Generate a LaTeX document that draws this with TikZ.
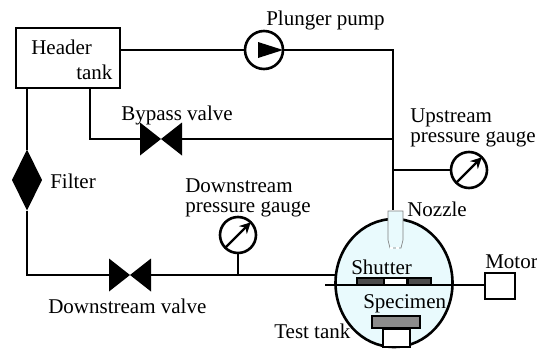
\documentclass[tikz,border=0pt]{standalone}
\usepackage{fontspec}
\setmainfont{Liberation Serif}
\usetikzlibrary{shapes.geometric}
\usetikzlibrary{arrows.meta}
\definecolor{tankblue}{HTML}{E9FAFD}

\begin{document}
\begin{tikzpicture}[x=1pt,y=-1pt,line width=2.6pt,
    tag/.style={
% The shape:
rectangle,
% The size:
inner sep=0pt,anchor=west,align=left,
% The font:
font=\fontsize{21}{20.5}\selectfont,
},
    box/.style={
% The shape:
rectangle,
% The border:
draw, line width=2.6pt, inner sep=0pt,
},
    valve/.style={
% The shape:
rectangle,
% The size:
minimum width=42pt, minimum height=33pt, inner sep=0pt, outer sep=0pt,
% The bowtie:
path picture={
  \fill (path picture bounding box.north west) -- (path picture bounding box.south east)
  -- (path picture bounding box.north east) -- (path picture bounding box.south west) -- cycle;
},
},
    gauge/.style={
% The shape:
circle,
% The size:
minimum size=36pt, inner sep=0pt, outer sep=0pt,
% The border:
draw, line width=2.6pt,
},
    pipe/.style={line width=2.6pt},
    needle/.style={-{Stealth[length=11pt,width=11pt]},line width=2.4pt},
]
  \useasboundingbox (0,0) rectangle (537,348);

  \node[ellipse,draw,fill=tankblue,line width=2.6pt,minimum width=117pt,minimum height=128pt,inner sep=0pt,outer sep=0pt]
    (tank) at (394, 283) {};
  \node[box,minimum width=104pt,minimum height=60pt,outer sep=0pt] (header) at (68, 58) {};
  \node[tag] (headertext) at (30, 47) {Header};
  \node[tag] (tanktext)   at (75, 72) {tank};

  \node[circle,draw,minimum size=38pt,inner sep=0pt,outer sep=0pt] (pump) at (264, 50) {};
  \fill[shift={(pump)}] (-6,-8) -- (19,0) -- (-6,8) -- cycle;
  \node[tag] (pumptext) at (265, 20) {Plunger pump};

  \coordinate (topcorner) at (393, 50);
  \coordinate (bypassjoin) at (393, 139);
  \coordinate (gaugejoin) at (393, 170);
  \coordinate (bypassout) at (90, 88);
  \coordinate (bypasscorner) at (90, 139);
  \coordinate (filterout) at (27, 88);
  \coordinate (lowcorner) at (27, 275);

  \node[valve] (bypass) at (161, 139) {};
  \node[tag] (bypasstext) at (120, 115) {Bypass valve};

  \node[diamond,fill=black,minimum width=30pt,minimum height=61pt,aspect=0.5,inner sep=0pt,outer sep=0pt]
    (filter) at (27, 180) {};
  \node[tag] (filtertext) at (49, 181) {Filter};

  \node[valve] (downvalve) at (130, 275) {};
  \node[tag] (downvalvetext) at (47, 306) {Downstream valve};

  \node[gauge] (downgauge) at (238, 235) {};
  \node[tag] (downtext) at (184, 198) {Downstream\\pressure gauge};
  \node[gauge] (upgauge) at (469, 170) {};
  \node[tag] (uptext) at (409, 128) {Upstream\\pressure gauge};
  \draw[needle] (downgauge.225) -- (downgauge.45);
  \draw[needle] (upgauge.225) -- (upgauge.45);

  % nozzle
  \node[minimum width=15pt,minimum height=0pt,inner sep=0pt] (nozzle) at (393, 211) {};
  \draw[gray,fill=tankblue,line width=0.7pt] (388,211) -- (403,211) -- (403,240) -- (401,248) -- (390,248) -- (388,240) -- cycle;
  \draw[white,line width=1.2pt,dash pattern=on 3pt off 3pt] (390,248) -- (401,248);
  \node[tag] (nozzletext) at (406, 209) {Nozzle};

  % shutter
  \node[draw,fill=black!70,line width=1.4pt,minimum width=27pt,minimum height=7pt,inner sep=0pt] (shutterl) at (370.5, 281.5) {};
  \node[draw,fill=white,line width=1.4pt,minimum width=23pt,minimum height=7pt,inner sep=0pt] (shutterm) at (395.5, 281.5) {};
  \node[draw,fill=black!70,line width=1.4pt,minimum width=23pt,minimum height=7pt,inner sep=0pt] (shutterr) at (419.5, 281.5) {};
  \node[tag] (shuttertext) at (350, 267) {Shutter};

  \coordinate (shaftend) at (325, 285);
  \node[box,minimum width=30pt,minimum height=26pt] (motor) at (500, 286) {};
  \node[tag] (motortext) at (484, 262) {Motor};
  \draw[pipe] (shaftend) -- (motor.west |- shaftend);

  % specimen
  \node[tag] (specimentext) at (362, 304) {Specimen};
  \node[draw,fill=black!45,line width=2.2pt,minimum width=48pt,minimum height=12pt,inner sep=0pt] (specimen) at (396, 322) {};
  \node[draw,fill=white,line width=2.2pt,minimum width=27pt,minimum height=18pt,inner sep=0pt] (base) at (396.5, 338) {};
  \node[tag] (tanklabel) at (273, 331) {Test tank};

  \draw[pipe] (header.east |- pump) -- (pump);
  \draw[pipe] (pump) -- (topcorner) -- (nozzle);
  \draw[pipe] (bypassout) -- (bypasscorner) -- (bypass);
  \draw[pipe] (bypass) -- (bypassjoin);
  \draw[pipe] (gaugejoin) -- (upgauge);
  \draw[pipe] (filterout) -- (filter);
  \draw[pipe] (filter) -- (lowcorner) -- (downvalve);
  \draw[pipe] (downvalve) -- (tank.west |- downvalve);
  \draw[pipe] (downgauge) -- (downgauge |- downvalve);

\end{tikzpicture}
\end{document}
